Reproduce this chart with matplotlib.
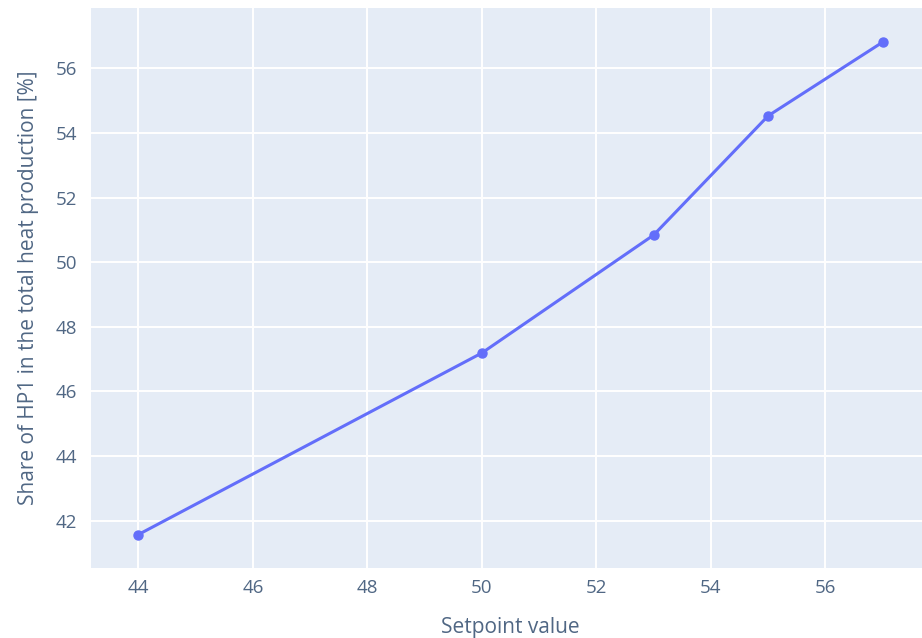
import matplotlib
matplotlib.use("Agg")
import matplotlib.pyplot as plt

setpoints = [44, 50, 53, 55, 57]
share_hp1 = [41.57, 47.19, 50.84, 54.53, 56.81]
x_ticks = [44, 46, 48, 50, 52, 54, 56]
y_ticks = [42, 44, 46, 48, 50, 52, 54, 56]

plt.rcParams['font.family'] = ['Open Sans', 'DejaVu Sans']
text_color = '#506784'

fig = plt.figure(figsize=(9.22, 6.38), dpi=100)
ax = fig.add_axes([91/922, 70/638, (930-91)/922, (568-8)/638])
ax.set_facecolor('#E5ECF6')
ax.plot(setpoints, share_hp1, color='#636EFA', lw=2.2, marker='o', ms=6.5, zorder=3)

ax.set_xlim(43.174, 57.826)
ax.set_ylim(40.536, 57.866)
ax.set_xticks(x_ticks)
ax.set_yticks(y_ticks)
ax.grid(True, color='white', lw=1.4)
ax.set_axisbelow(True)
for s in ax.spines.values():
    s.set_visible(False)
ax.tick_params(length=0, labelsize=13.5, labelcolor=text_color, pad=8)
ax.tick_params(axis='y', pad=10)
ax.set_xlabel('Setpoint value', fontsize=15, color=text_color, labelpad=14)
ax.set_ylabel('Share of HP1 in the total heat production [%]', fontsize=15, color=text_color, labelpad=12)

fig.savefig('out.png', dpi=100)
